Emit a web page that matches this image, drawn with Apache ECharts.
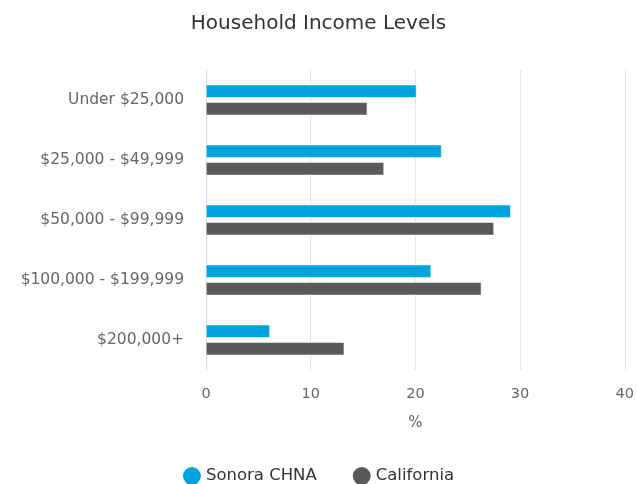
<!DOCTYPE html>
<html>
<head>
<meta charset="utf-8">
<script src="https://cdn.jsdelivr.net/npm/echarts@6/dist/echarts.min.js"></script>
<style>
  html, body { margin: 0; padding: 0; background: #fff; }
  #chart { width: 637px; height: 484px; }
</style>
</head>
<body>
<div id="chart"></div>
<script>
const categories = ['Under $25,000', '$25,000 - $49,999', '$50,000 - $99,999', '$100,000 - $199,999', '$200,000+'];
const sonora = [20.1, 22.5, 29.1, 21.5, 6.1];
const california = [15.4, 17.0, 27.5, 26.3, 13.2];
const xTicks = [0, 10, 20, 30, 40];

const FONT = "'DejaVu Sans', sans-serif";
const chart = echarts.init(document.getElementById('chart'));

chart.setOption({
    animation: false,
    title: {
        text: 'Household Income Levels',
        left: 'center',
        top: 9,
        textStyle: { fontFamily: FONT, fontSize: 20, fontWeight: 'normal', color: '#333' }
    },
    legend: {
        top: 462,
        left: 'center',
        icon: 'circle',
        itemWidth: 18,
        itemHeight: 18,
        itemGap: 36,
        itemStyle: { borderWidth: 0 },
        textStyle: { fontFamily: FONT, fontSize: 16.5, color: '#333' },
        data: ['Sonora CHNA', 'California']
    },
    grid: { left: 206, right: 12, top: 70, bottom: 114 },
    xAxis: {
        type: 'value',
        min: xTicks[0],
        max: xTicks[xTicks.length - 1],
        interval: 10,
        name: '%',
        nameLocation: 'middle',
        nameGap: 46,
        nameTextStyle: { fontFamily: FONT, fontSize: 15, color: '#666' },
        axisLabel: { fontFamily: FONT, fontSize: 14.5, color: '#666', margin: 17 },
        axisLine: { show: false },
        axisTick: { show: false },
        splitLine: { lineStyle: { color: '#e6e6e6' } }
    },
    yAxis: {
        type: 'category',
        inverse: true,
        data: categories,
        axisLabel: { fontFamily: FONT, fontSize: 15.5, color: '#666', margin: 22 },
        axisLine: { lineStyle: { color: '#ccd6eb' } },
        axisTick: { show: false }
    },
    series: [
        {
            name: 'Sonora CHNA',
            type: 'bar',
            data: sonora,
            barWidth: 13,
            barGap: '35%',
            itemStyle: { color: '#00a3de', borderColor: '#fff', borderWidth: 0.5 }
        },
        {
            name: 'California',
            type: 'bar',
            data: california,
            barWidth: 13,
            barGap: '35%',
            itemStyle: { color: '#58595b', borderColor: '#fff', borderWidth: 0.5 }
        }
    ]
});

window.addEventListener('resize', () => chart.resize());
</script>
</body>
</html>
